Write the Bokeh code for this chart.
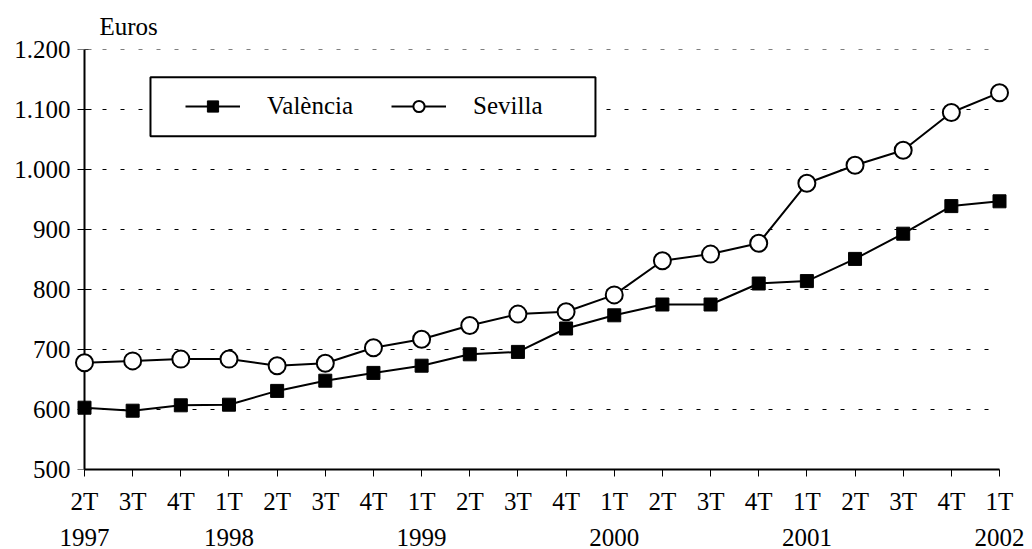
from bokeh.plotting import figure
from bokeh.models import (Range1d, FixedTicker, LinearAxis, Legend, LegendItem,
                          BoxAnnotation, ColumnDataSource, Span)
from bokeh.embed import file_html
from bokeh.resources import INLINE

# ---------------- data ----------------
quarters = ["2T", "3T", "4T", "1T", "2T", "3T", "4T", "1T", "2T", "3T",
            "4T", "1T", "2T", "3T", "4T", "1T", "2T", "3T", "4T", "1T"]
year_labels = ["1997", "1998", "1999", "2000", "2001", "2002"]
year_index = [0, 3, 7, 11, 15, 19]

valencia = [603, 598, 607, 608, 631, 648, 661, 673, 692, 696,
            735, 757, 775, 775, 810, 814, 851, 893, 939, 947]
sevilla = [678, 681, 684, 684, 673, 677, 703, 717, 740, 759,
           763, 791, 848, 859, 877, 977, 1007, 1032, 1095, 1128]

y_ticks = [500, 600, 700, 800, 900, 1000, 1100, 1200]
y_tick_labels = ["500", "600", "700", "800", "900", "1.000", "1.100", "1.200"]

FONT = "Liberation Serif"
FS = "25px"

x = list(range(len(quarters)))
src = ColumnDataSource(dict(x=x, valencia=valencia, sevilla=sevilla))

p = figure(width=1032, height=549,
           x_range=Range1d(-0.2077, len(quarters) - 1 + 0.249),
           y_range=Range1d(y_ticks[0], y_ticks[-1]),
           output_backend="svg", toolbar_location=None,
           min_border_left=74, min_border_right=21,
           min_border_top=49, min_border_bottom=80)
p.outline_line_color = None
p.xgrid.visible = False
p.ygrid.visible = False
p.background_fill_color = "white"
p.border_fill_color = "white"

# title used as unit label
p.title.text = "Euros"
p.title.text_font = FONT
p.title.text_font_size = FS
p.title.text_font_style = "normal"
p.title.text_color = "black"
p.title.align = "left"
p.title.offset = 25
p.title.standoff = 20

# y axis line at the first category + outward ticks
p.add_layout(Span(location=x[0], dimension="height", line_color="black",
                  line_width=2, level="underlay"))
p.scatter(x=[x[0]] * len(y_ticks), y=y_ticks, marker="dash", size=14,
          line_color="black", line_width=1)

# dotted horizontal gridlines (between first and last category)
grid_y = y_ticks[1:]
p.segment(x0=[x[0]] * len(grid_y), x1=[x[-1]] * len(grid_y),
          y0=grid_y, y1=grid_y, line_color="black", line_width=1,
          line_dash="4 14")

# series
vl = p.line("x", "valencia", source=src, line_color="black", line_width=2)
vs = p.scatter("x", "valencia", source=src, marker="square", size=13,
               fill_color="black", line_color="black", line_width=1)
sl = p.line("x", "sevilla", source=src, line_color="black", line_width=2)
ss = p.scatter("x", "sevilla", source=src, marker="circle", size=17,
               fill_color="white", line_color="black", line_width=2)

# x axis (quarters)
xa = p.xaxis[0]
xa.ticker = FixedTicker(ticks=x)
xa.major_label_overrides = {i: q for i, q in enumerate(quarters)}
xa.bounds = (x[0], x[-1])
xa.axis_line_width = 2
xa.axis_line_color = "black"
xa.major_tick_out = 7
xa.major_tick_in = 0
xa.major_tick_line_color = "black"
xa.minor_tick_line_color = None
xa.major_label_standoff = 11
xa.major_label_text_font = FONT
xa.major_label_text_font_size = FS
xa.major_label_text_color = "black"

# years axis
ya2 = LinearAxis(ticker=FixedTicker(ticks=year_index),
                 major_label_overrides=dict(zip(year_index, year_labels)),
                 axis_line_color=None, major_tick_line_color=None,
                 minor_tick_line_color=None, major_tick_out=0, major_tick_in=0,
                 major_label_standoff=11, major_label_text_font=FONT,
                 major_label_text_font_size=FS, major_label_text_color="black")
p.add_layout(ya2, "below")

# y axis labels
ya = p.yaxis[0]
ya.ticker = FixedTicker(ticks=y_ticks)
ya.major_label_overrides = dict(zip(y_ticks, y_tick_labels))
ya.axis_line_color = None
ya.major_tick_line_color = None
ya.minor_tick_line_color = None
ya.major_tick_out = 0
ya.major_tick_in = 0
ya.major_label_standoff = 4
ya.major_label_text_font = FONT
ya.major_label_text_font_size = FS
ya.major_label_text_color = "black"

# legend box + legend
box = BoxAnnotation(left=1.37, right=10.61, top=1153.8, bottom=1055.5,
                    fill_color="white", fill_alpha=1.0,
                    line_color="black", line_width=2, line_alpha=1.0)
p.add_layout(box)

legend = Legend(items=[LegendItem(label="València", renderers=[vl, vs]),
                       LegendItem(label="Sevilla", renderers=[sl, ss])],
                orientation="horizontal", location=(111, 349),
                glyph_width=55, glyph_height=28, label_height=28,
                label_standoff=27, spacing=38, padding=0, margin=0,
                border_line_color=None, background_fill_alpha=0.0)
legend.label_text_font = FONT
legend.label_text_font_size = FS
legend.label_text_font_style = "normal"
legend.label_text_color = "black"
p.add_layout(legend)

open("out.html", "w").write(file_html(p, INLINE))
